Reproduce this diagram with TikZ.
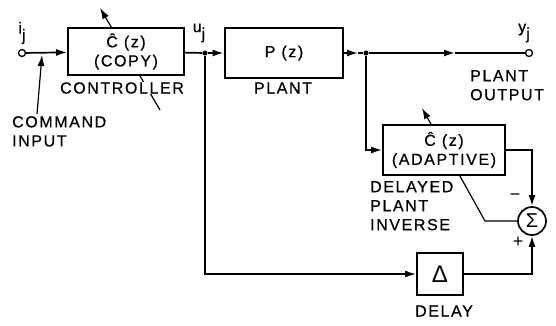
\documentclass[tikz,border=0pt]{standalone}
\usepackage{fontspec}
\setmainfont{Liberation Sans}
\newfontfamily\lblfont[LetterSpace=10,FakeBold=0.6]{Liberation Sans}
\usetikzlibrary{arrows.meta}
\pgfdeclarelayer{bg}
\pgfsetlayers{bg,main}
\begin{document}
\begin{tikzpicture}[x=1pt,y=-1pt,
  conn/.style={line width=1.7pt},
  arr/.style={-{Latex[length=11pt,width=7pt]}},
  blk/.style={draw, line width=1.8pt, fill=white, inner sep=0pt, align=center,
    font=\lblfont\fontsize{16}{19}\selectfont},
  lbl/.style={inner sep=0pt, font=\lblfont\fontsize{16}{17}\selectfont},
  lbll/.style={lbl, align=left, anchor=north west},
  port/.style={circle, draw, line width=1.3pt, fill=white, minimum size=7pt, inner sep=0pt},
  dot/.style={circle, fill=black, minimum size=5pt, inner sep=0pt}]
\useasboundingbox (0,0) rectangle (556,325);

% blocks
\node[blk, minimum width=116pt, minimum height=47pt] (ctrl) at (126,51.5) {Ĉ (z)\\(COPY)};
\node[blk, line width=2.8pt, minimum width=118pt, minimum height=50pt] (plant) at (284,53) {P (z)};
\node[blk, minimum width=122pt, minimum height=50pt] (adapt) at (444,150) {Ĉ (z)\\(ADAPTIVE)};
\node[blk, minimum width=46pt, minimum height=42pt, font=\fontsize{24}{24}\selectfont] (delay) at (440,274) {Δ};
\node[circle, draw, line width=1.7pt, fill=white, minimum size=28pt, inner sep=0pt, font=\fontsize{20}{20}\selectfont] (sum) at (532,221) {Σ};

% ports and junctions
\node[port] (in) at (22,53) {};
\node[port] (out) at (529,53) {};
\node[dot] (uj) at (205,53) {};
\node[dot] (yj) at (366,53) {};
\coordinate (pa) at (358,53);
\coordinate (oa) at (455,53);

% labels
\node[lbl] (ilab) at (22,33) {i\raisebox{-7pt}{j}};
\node[lbl] (ulab) at (199,33) {u\raisebox{-7pt}{j}};
\node[lbl] (ylab) at (524,33) {y\raisebox{-7pt}{j}};
\node[lbl, fill=white] (ctrllab) at (122,88) {CONTROLLER};
\node[lbl] (plantlab) at (283,88) {PLANT};
\node[lbll] (outlab) at (470,70) {PLANT\\[2pt]OUTPUT};
\node[lbll] (cmdlab) at (12,116) {COMMAND\\[2pt]INPUT};
\node[lbll] (dpilab) at (370,181) {DELAYED\\[2pt]PLANT\\[2pt]INVERSE};
\node[lbl] (delaylab) at (444,311) {DELAY};
\node[lbl, font=\fontsize{18}{18}\selectfont] (minus) at (515,197) {−};
\node[lbl, font=\fontsize{18}{18}\selectfont] (plus) at (518,242) {+};

% connectors
\draw[conn, arr] (in) -- (ctrl);
\draw[conn] (ctrl) -- (uj);
\draw[conn, arr] (uj) -- (plant);
\draw[conn, arr] (plant) -- (pa);
\draw[conn] (pa) -- (yj);
\draw[conn, arr] (yj) -- (oa);
\draw[conn] (oa) -- (out);
\draw[conn, arr] (yj) |- (adapt);
\draw[conn, arr] (uj) |- (delay);
\draw[conn, arr] (adapt.east) -| (sum.north);
\draw[conn, arr] (delay.east) -| (sum.south);

% command input pointer
\coordinate (cmdtip) at (42,55);
\draw[line width=1.2pt, arr] (cmdlab.north west) ++(25,-2) coordinate (cmdfoot) -- (cmdtip);

% adaptation arrows (behind blocks)
\coordinate (cfoot) at (160,110);
\coordinate (ctip) at (100,8);
\coordinate (abend) at (485,221);
\coordinate (atip) at (422,108);
\begin{pgfonlayer}{bg}
\draw[line width=1.2pt, arr] (cfoot) -- (ctip);
\draw[line width=1.2pt, arr] (sum.west) -- (abend) -- (atip);
\end{pgfonlayer}
\end{tikzpicture}
\end{document}
